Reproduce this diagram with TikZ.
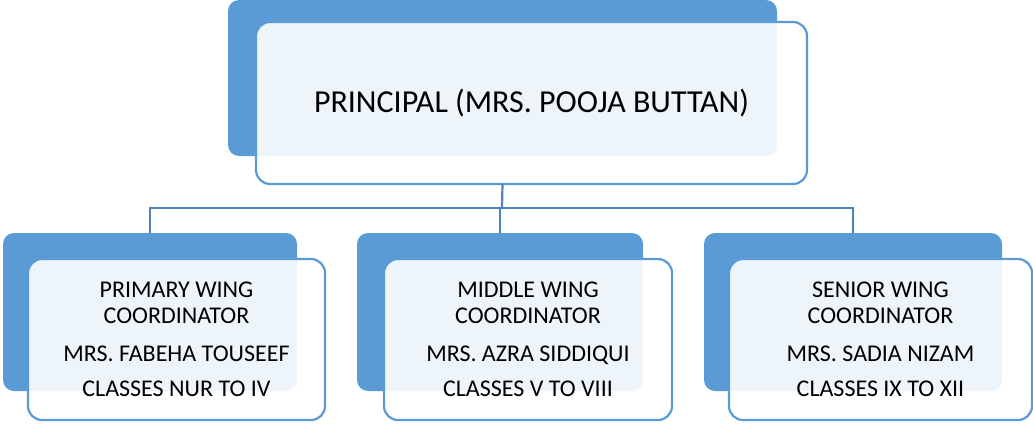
\documentclass[tikz,border=0pt]{standalone}
\usepackage{fontspec}
\setmainfont{Carlito}
\definecolor{obl}{HTML}{5B9BD5}
\definecolor{conn}{HTML}{4F81BD}
\begin{document}
\begin{tikzpicture}[x=1pt,y=-1pt,
  backbox/.style={fill=obl, rounded corners=11pt, inner sep=0pt, outer sep=0pt},
  frontbox/.style={draw=obl, line width=2.2pt, fill=white, fill opacity=0.9, text opacity=1,
    rounded corners=14pt, inner sep=0pt, outer sep=0pt},
  toptext/.style={font=\fontsize{32}{36}\selectfont, align=center, inner sep=0pt},
  subtext/.style={font=\fontsize{24}{26}\selectfont, align=center, inner sep=0pt},
  connector/.style={draw=conn, line width=2.2pt}]
\useasboundingbox (0,0) rectangle (1033,429);
% top
\node[backbox, minimum width=549pt, minimum height=156pt] (pb) at (502.5,78) {};
\node[frontbox, minimum width=551pt, minimum height=162pt] (pf) at (531.5,103) {};
\node[toptext] (pt) at (pf.center) {PRINCIPAL (MRS. POOJA BUTTAN)};
% bottom boxes
\node[backbox, minimum width=294pt, minimum height=158pt] (b1) at (150,312) {};
\node[frontbox, minimum width=297pt, minimum height=161pt] (f1) at (176.5,339.5) {};
\node[backbox, minimum width=286pt, minimum height=158pt] (b2) at (500,312) {};
\node[frontbox, minimum width=288pt, minimum height=161pt] (f2) at (528,339.5) {};
\node[backbox, minimum width=298pt, minimum height=158pt] (b3) at (853,312) {};
\node[frontbox, minimum width=303pt, minimum height=161pt] (f3) at (880.5,339.5) {};
\node[subtext] (t1) at (f1.center) {PRIMARY WING\\COORDINATOR\\[12pt]MRS. FABEHA TOUSEEF\\[9pt]CLASSES NUR TO IV};
\node[subtext] (t2) at (f2.center) {MIDDLE WING\\COORDINATOR\\[12pt]MRS. AZRA SIDDIQUI\\[9pt]CLASSES V TO VIII};
\node[subtext] (t3) at (f3.center) {SENIOR WING\\COORDINATOR\\[12pt]MRS. SADIA NIZAM\\[9pt]CLASSES IX TO XII};
% connectors
\coordinate (bus) at (502,208);
\draw[connector] (pb.south |- pf.south) -- (bus);
\draw[connector] (b1.north) |- (bus);
\draw[connector] (b3.north) |- (bus);
\draw[connector] (b2.north) -- (b2.north |- bus);
\end{tikzpicture}
\end{document}
